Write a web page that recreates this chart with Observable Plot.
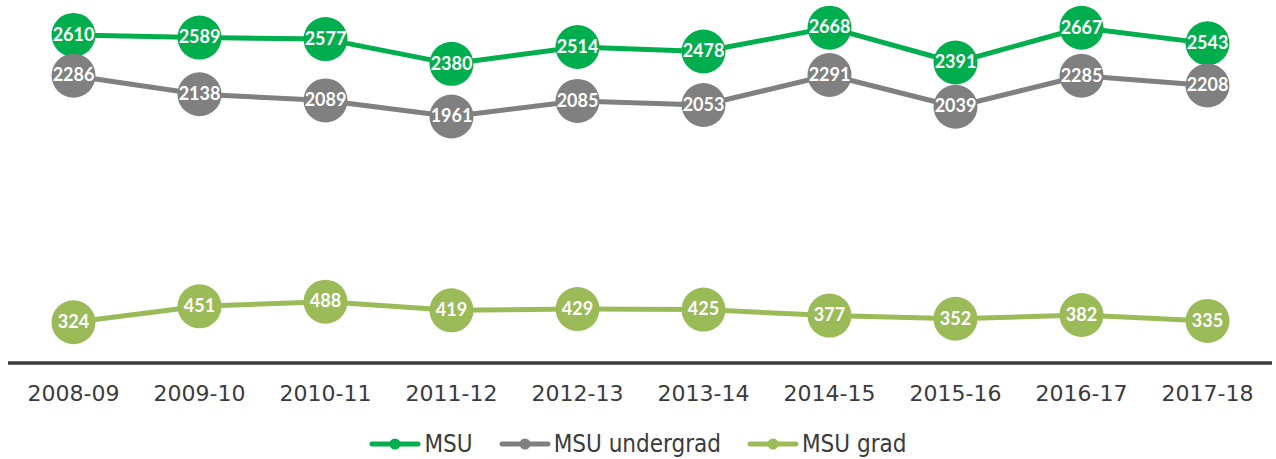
<!DOCTYPE html>
<html><head><meta charset="utf-8">
<script src="https://cdn.jsdelivr.net/npm/d3@7"></script>
<script src="https://cdn.jsdelivr.net/npm/@observablehq/plot@0.6"></script>
<style>
body{margin:0;background:#fff;width:1276px;}
#legend{display:flex;justify-content:center;align-items:center;height:48px;font-family:"Liberation Sans Narrow","DejaVu Sans Condensed",sans-serif;font-size:24px;color:#3b3b3b;}
.item{display:flex;align-items:center;margin:0 13px;}
.item svg{margin-right:3px;}
</style></head><body>
<div id="chart"></div><div id="legend"></div>
<script>
const years = ["2008-09","2009-10","2010-11","2011-12","2012-13","2013-14","2014-15","2015-16","2016-17","2017-18"];
const msu = [2610, 2589, 2577, 2380, 2514, 2478, 2668, 2391, 2667, 2543];
const undergrad = [2286, 2138, 2089, 1961, 2085, 2053, 2291, 2039, 2285, 2208];
const grad = [324, 451, 488, 419, 429, 425, 377, 352, 382, 335];
const seriesNames = ["MSU", "MSU undergrad", "MSU grad"];
const seriesColors = ["#00AE4D", "#808080", "#9BBB59"];
const seriesValues = [msu, undergrad, grad];

const marks = [Plot.ruleY([0], {stroke: "#3c3c3c", strokeWidth: 3.5})];
seriesNames.forEach((name, k) => {
  const d = years.map((yr, i) => ({series: name, year: yr, value: seriesValues[k][i]}));
  marks.push(Plot.line(d, {x: "year", y: "value", stroke: seriesColors[k], strokeWidth: 5}));
  marks.push(Plot.dot(d, {x: "year", y: "value", r: 22, fill: seriesColors[k]}));
  marks.push(Plot.text(d, {x: "year", y: "value", text: r => String(r.value), fill: "white",
    fontSize: 18, fontWeight: "bold", fontFamily: "Lato, 'Open Sans', sans-serif"}));
});
marks.push(Plot.axisX({tickSize: 0, tickPadding: 22, fontSize: 22, fill: "#3b3b3b",
  fontFamily: "'DejaVu Sans', sans-serif"}));

const chart = Plot.plot({
  width: 1276, height: 420,
  marginLeft: 8, marginRight: 4, marginTop: 0, marginBottom: 57.5,
  x: {type: "point", domain: years, range: [70, 1210], padding: 0, label: null},
  y: {domain: [0, 2884], range: [362.5, 0], axis: null},
  style: {background: "white", overflow: "visible"},
  marks
});
document.getElementById("chart").appendChild(chart);

const legend = document.getElementById("legend");
seriesNames.forEach((name, k) => {
  const item = document.createElement("div");
  item.className = "item";
  item.innerHTML = `<svg width="52" height="14"><line x1="3" x2="49" y1="7" y2="7" stroke="${seriesColors[k]}" stroke-width="5" stroke-linecap="round"/><circle cx="26" cy="7" r="5.5" fill="${seriesColors[k]}"/></svg><span>${name}</span>`;
  legend.appendChild(item);
});
</script>
</body></html>
